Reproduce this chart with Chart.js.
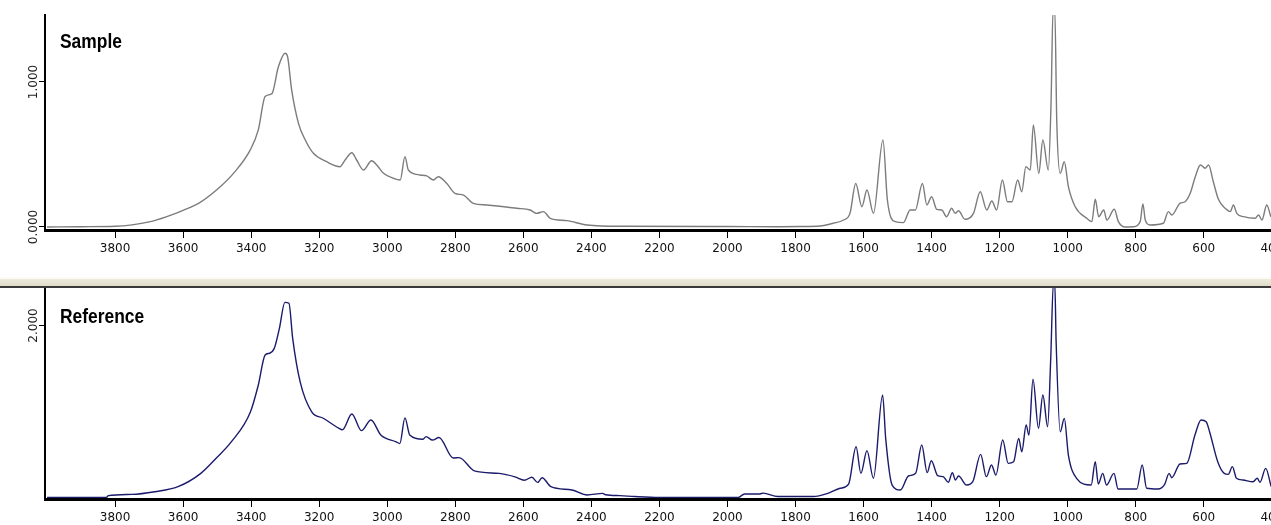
<!DOCTYPE html>
<html>
<head>
<meta charset="utf-8">
<script src="https://cdn.jsdelivr.net/npm/chart.js@4.4.1/dist/chart.umd.min.js"></script>
<style>
  html, body { margin: 0; padding: 0; background: #fff; overflow: hidden; width: 1271px; height: 525px; }
  #wrap { width: 1280px; }
  canvas { display: block; }
  #sep {
    width: 1280px; height: 11px;
    background: linear-gradient(to bottom, #fafaf6 0, #fafaf6 2px, #eeebdd 2px, #e0dcc8 9px, #3a3a3a 9px, #3a3a3a 11px);
  }
</style>
</head>
<body>
<div id="wrap">
  <canvas id="sampleChart" width="1280" height="277"></canvas>
  <div id="sep"></div>
  <canvas id="referenceChart" width="1280" height="237"></canvas>
</div>
<script>
// Spectrum data (wavenumber, absorbance)
const sampleWavenumber = [4000, 3900, 3800, 3750, 3700, 3650, 3600, 3550, 3491, 3452, 3403, 3379, 3359, 3339, 3320, 3300, 3293, 3281, 3261, 3241,
  3217, 3178, 3139, 3124, 3104, 3090, 3070, 3046, 3031, 3011, 2982, 2962, 2948, 2938, 2904, 2884, 2864, 2850, 2825, 2801,
  2776, 2747, 2707, 2619, 2580, 2561, 2541, 2521, 2472, 2413, 2300, 2000, 1850, 1787, 1728, 1689, 1659, 1640, 1623, 1605,
  1590, 1571, 1543, 1530, 1507, 1483, 1463, 1448, 1427, 1414, 1400, 1385, 1370, 1356, 1341, 1331, 1321, 1302, 1277, 1257,
  1238, 1223, 1209, 1192, 1177, 1164, 1147, 1135, 1123, 1110, 1101, 1085, 1073, 1057, 1049, 1043, 1038, 1032, 1022, 1010,
  998, 978, 944, 929, 919, 909, 894, 885, 863, 851, 831, 807, 787, 779, 772, 758, 719, 704, 694, 670,
  655, 640, 625, 610, 596, 586, 572, 557, 537, 522, 513, 503, 483, 449, 439, 429, 415, 403];
const sampleAbsorbance = [0.0, 0.002, 0.005, 0.015, 0.035, 0.07, 0.115, 0.17, 0.278, 0.37, 0.53, 0.67, 0.90, 0.92, 1.105, 1.198, 1.175, 0.945, 0.715, 0.60,
  0.508, 0.45, 0.416, 0.462, 0.512, 0.462, 0.393, 0.457, 0.428, 0.37, 0.336, 0.324, 0.485, 0.393, 0.359, 0.352, 0.324, 0.347, 0.30, 0.232,
  0.22, 0.163, 0.152, 0.129, 0.117, 0.094, 0.106, 0.06, 0.044, 0.014, 0.005, 0.003, 0.002, 0.003, 0.007, 0.026, 0.048, 0.094, 0.30, 0.14,
  0.255, 0.094, 0.60, 0.186, 0.037, 0.03, 0.117, 0.117, 0.30, 0.152, 0.209, 0.122, 0.117, 0.071, 0.129, 0.094, 0.112, 0.053, 0.094, 0.243,
  0.117, 0.179, 0.117, 0.324, 0.174, 0.174, 0.324, 0.243, 0.416, 0.393, 0.703, 0.37, 0.60, 0.393, 0.85, 1.5, 1.5, 0.715, 0.37, 0.45,
  0.278, 0.14, 0.06, 0.037, 0.191, 0.071, 0.117, 0.048, 0.122, 0.037, 0.0, 0.002, 0.037, 0.159, 0.048, 0.014, 0.026, 0.106, 0.083, 0.163,
  0.174, 0.232, 0.347, 0.428, 0.405, 0.428, 0.312, 0.191, 0.129, 0.106, 0.152, 0.094, 0.071, 0.06, 0.083, 0.048, 0.152, 0.071];

const referenceWavenumber = [4000, 3825, 3820, 3751, 3683, 3615, 3548, 3503, 3458, 3402, 3379, 3359, 3346, 3332, 3317, 3301, 3289, 3278, 3256, 3222,
  3188, 3143, 3132, 3104, 3076, 3048, 3019, 2974, 2963, 2948, 2934, 2895, 2886, 2867, 2848, 2806, 2789, 2744, 2671, 2625,
  2597, 2575, 2558, 2545, 2519, 2457, 2412, 2367, 2358, 2316, 2273, 2200, 1968, 1950, 1905, 1895, 1852, 1748, 1705, 1669,
  1644, 1622, 1608, 1590, 1571, 1544, 1535, 1516, 1492, 1468, 1447, 1429, 1413, 1401, 1382, 1366, 1351, 1339, 1330, 1321,
  1297, 1279, 1256, 1239, 1224, 1211, 1191, 1175, 1159, 1144, 1135, 1122, 1114, 1102, 1086, 1073, 1059, 1050, 1042, 1038,
  1034, 1022, 1010, 998, 974, 931, 919, 910, 897, 886, 864, 852, 797, 781, 768, 735, 715, 702, 694, 670,
  650, 626, 608, 593, 583, 559, 540, 528, 516, 504, 485, 455, 443, 435, 418, 402];
const referenceAbsorbance = [-0.01, -0.01, 0.01, 0.025, 0.056, 0.115, 0.271, 0.447, 0.641, 0.992, 1.304, 1.655, 1.675, 1.733, 1.967, 2.271, 2.26, 1.85, 1.34, 0.99,
  0.915, 0.80, 0.78, 0.965, 0.77, 0.895, 0.72, 0.64, 0.62, 0.92, 0.72, 0.67, 0.70, 0.66, 0.69, 0.45, 0.455, 0.30, 0.27, 0.23,
  0.19, 0.225, 0.165, 0.22, 0.115, 0.076, 0.018, 0.037, 0.02, 0.01, 0.0, -0.01, -0.01, 0.03, 0.03, 0.04, 0.0, 0.0, 0.037, 0.096,
  0.146, 0.582, 0.271, 0.536, 0.213, 1.187, 0.68, 0.134, 0.076, 0.24, 0.271, 0.602, 0.279, 0.419, 0.244, 0.232, 0.166, 0.279, 0.193, 0.24,
  0.134, 0.173, 0.493, 0.232, 0.368, 0.251, 0.661, 0.388, 0.407, 0.68, 0.524, 0.836, 0.719, 1.371, 0.797, 1.187, 0.817, 1.6, 2.5, 2.5,
  1.81, 0.758, 0.914, 0.485, 0.213, 0.134, 0.407, 0.146, 0.271, 0.134, 0.271, 0.088, 0.088, 0.368, 0.096, 0.088, 0.142, 0.271, 0.22, 0.38,
  0.388, 0.719, 0.895, 0.875, 0.758, 0.407, 0.271, 0.259, 0.349, 0.213, 0.193, 0.173, 0.213, 0.166, 0.329, 0.115];

const xTickValues = [3800, 3600, 3400, 3200, 3000, 2800, 2600, 2400, 2200, 2000, 1800, 1600, 1400, 1200, 1000, 800, 600, 400];
const sampleYTicks = [0, 1];
const referenceYTicks = [2];

// draws the panel name in the top left corner of the plot (condensed bold)
const panelLabelPlugin = {
  id: 'panelLabel',
  afterDraw(chart, args, opts) {
    const ctx = chart.ctx;
    ctx.save();
    ctx.translate(opts.x, opts.y);
    ctx.scale(0.87, 1);
    ctx.font = 'bold 20px "Liberation Sans", Arial, sans-serif';
    ctx.fillStyle = '#000';
    ctx.textBaseline = 'alphabetic';
    ctx.fillText(opts.text, 0, 0);
    ctx.restore();
  }
};

function makeSpectrum(canvasId, wavenumbers, values, cfg) {
  const ctx = document.getElementById(canvasId).getContext('2d');
  return new Chart(ctx, {
    type: 'line',
    data: {
      datasets: [{
        data: wavenumbers.map((w, i) => ({ x: w, y: values[i] })),
        borderColor: cfg.color,
        borderWidth: 1.4,
        pointRadius: 0,
        cubicInterpolationMode: 'monotone',
        fill: false
      }]
    },
    options: {
      responsive: false,
      animation: false,
      events: [],
      layout: { padding: { top: cfg.padTop, left: 0, right: 0, bottom: 0 } },
      plugins: {
        legend: { display: false },
        tooltip: { enabled: false },
        panelLabel: { text: cfg.label, x: 60, y: cfg.labelY }
      },
      scales: {
        x: {
          type: 'linear',
          reverse: true,
          min: 376,
          max: 4006,
          afterBuildTicks: s => { s.ticks = xTickValues.map(v => ({ value: v })); },
          afterFit: s => { s.height = cfg.xAxisHeight; s.paddingLeft = 0; s.paddingRight = 0; },
          grid: { drawOnChartArea: false, drawTicks: true, tickLength: 8, tickColor: '#000', lineWidth: 1 },
          border: { display: true, color: '#000', width: 3 },
          ticks: {
            autoSkip: false, minRotation: 0, maxRotation: 0, padding: 4,
            color: '#111', font: { family: 'DejaVu Sans', size: 12 },
            callback: v => String(v)
          }
        },
        y: {
          min: cfg.yMin,
          max: cfg.yMax,
          afterBuildTicks: s => { s.ticks = cfg.yTicks.map(v => ({ value: v })); },
          afterFit: s => { s.width = 45; s.paddingTop = 0; s.paddingBottom = 0; },
          grid: { drawOnChartArea: false, drawTicks: true, tickLength: 6, tickColor: '#000', lineWidth: 1 },
          border: { display: true, color: '#000', width: 2 },
          ticks: {
            minRotation: 90, maxRotation: 90, crossAlign: 'center', padding: -12,
            color: '#222', font: { family: 'DejaVu Sans', size: 12 },
            callback: v => v.toFixed(3)
          }
        }
      }
    },
    plugins: [panelLabelPlugin]
  });
}

// Muestra (arriba) y referencia (abajo)
makeSpectrum('sampleChart', sampleWavenumber, sampleAbsorbance, {
  color: '#7c7c7c', label: 'Sample', labelY: 48, padTop: 15, xAxisHeight: 47,
  yMin: -0.0207, yMax: 1.462, yTicks: sampleYTicks
});
makeSpectrum('referenceChart', referenceWavenumber, referenceAbsorbance, {
  color: '#1b1b6b', label: 'Reference', labelY: 35, padTop: 0, xAxisHeight: 26,
  yMin: -0.0292, yMax: 2.4386, yTicks: referenceYTicks
});
</script>
</body>
</html>
